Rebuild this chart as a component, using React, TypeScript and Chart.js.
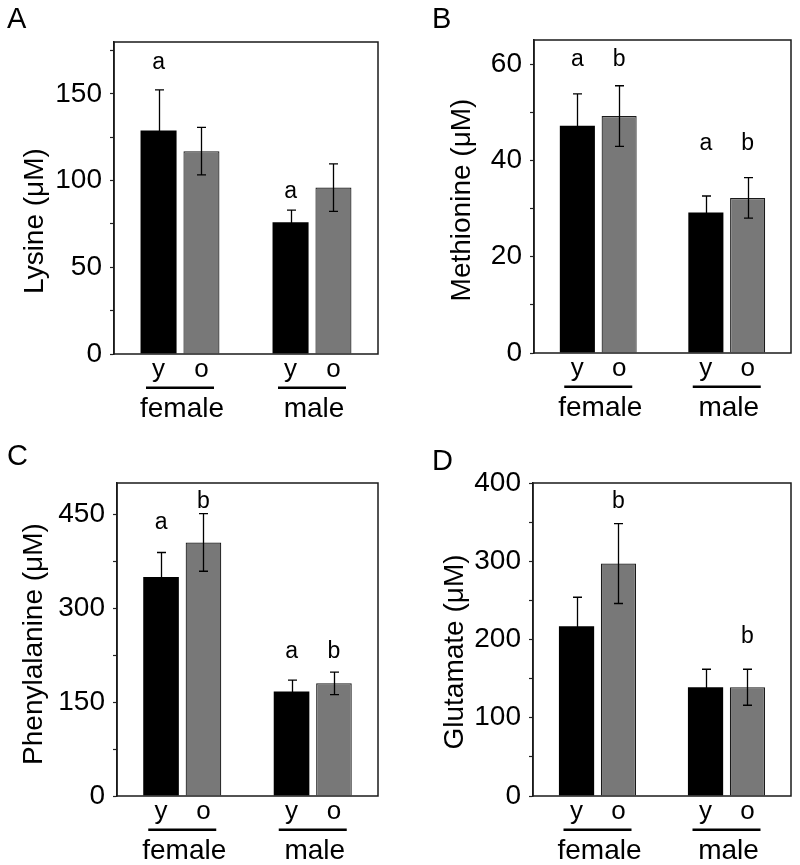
import React, { useEffect, useRef } from 'react';
import { Chart, registerables } from 'chart.js';
Chart.register(...registerables);

const FONT = '"Liberation Sans", Arial, Helvetica, sans-serif';

// categories
const groups = ['female', 'male'];
const ageLabels = ['y', 'o'];

// A: Lysine
const lysineYoung = [129, 76];
const lysineYoungErr = [23.4, 7];
const lysineOld = [117, 96];
const lysineOldErr = [13.7, 13.7];
const lysineYoungLetters = ['a', 'a'];
const lysineOldLetters = ['', ''];
const lysineYoungLetterAt = [164.5, 89.8];
const lysineOldLetterAt = [0, 0];
const lysineTicks = [0, 25, 50, 75, 100, 125, 150, 175];
const lysineTickLabels = ['0', '', '50', '', '100', '', '150', ''];

// B: Methionine
const methionineYoung = [47.2, 29.2];
const methionineYoungErr = [6.6, 3.4];
const methionineOld = [49.2, 32.2];
const methionineOldErr = [6.3, 4.2];
const methionineYoungLetters = ['a', 'a'];
const methionineOldLetters = ['b', 'b'];
const methionineYoungLetterAt = [59.6, 42.1];
const methionineOldLetterAt = [59.6, 42.1];
const methionineTicks = [0, 10, 20, 30, 40, 50, 60];
const methionineTickLabels = ['0', '', '20', '', '40', '', '60'];

// C: Phenylalanine
const phenylYoung = [350, 167];
const phenylYoungErr = [39, 18];
const phenylOld = [405, 180];
const phenylOldErr = [46, 18];
const phenylYoungLetters = ['a', 'a'];
const phenylOldLetters = ['b', 'b'];
const phenylYoungLetterAt = [426, 220];
const phenylOldLetterAt = [460, 220];
const phenylTicks = [0, 75, 150, 225, 300, 375, 450];
const phenylTickLabels = ['0', '', '150', '', '300', '', '450'];

// D: Glutamate
const glutamateYoung = [217, 139];
const glutamateYoungErr = [37, 23];
const glutamateOld = [297, 139];
const glutamateOldErr = [51, 23];
const glutamateYoungLetters = ['', ''];
const glutamateOldLetters = ['b', 'b'];
const glutamateYoungLetterAt = [0, 0];
const glutamateOldLetterAt = [368, 195];
const glutamateTicks = [0, 50, 100, 150, 200, 250, 300, 350, 400];
const glutamateTickLabels = ['0', '', '100', '', '200', '', '300', '', '400'];

const panels = [
  {
    key: 'A', left: 0, top: 0, width: 400, height: 430,
    pad: { top: 42, right: 22, bottom: 76 }, axisWidth: 114,
    max: 180, ticks: lysineTicks, tickLabels: lysineTickLabels,
    title: 'Lysine (μM)', titleX: 43, titleY: 221,
    letterX: 7, letterY: 28,
    young: lysineYoung, youngErr: lysineYoungErr, old: lysineOld, oldErr: lysineOldErr,
    youngLetters: lysineYoungLetters, oldLetters: lysineOldLetters,
    youngLetterAt: lysineYoungLetterAt, oldLetterAt: lysineOldLetterAt,
  },
  {
    key: 'B', left: 400, top: 0, width: 400, height: 430,
    pad: { top: 40, right: 9, bottom: 77 }, axisWidth: 134,
    max: 65, ticks: methionineTicks, tickLabels: methionineTickLabels,
    title: 'Methionine (μM)', titleX: 70, titleY: 200,
    letterX: 32, letterY: 28,
    young: methionineYoung, youngErr: methionineYoungErr, old: methionineOld, oldErr: methionineOldErr,
    youngLetters: methionineYoungLetters, oldLetters: methionineOldLetters,
    youngLetterAt: methionineYoungLetterAt, oldLetterAt: methionineOldLetterAt,
  },
  {
    key: 'C', left: 0, top: 430, width: 400, height: 435,
    pad: { top: 53, right: 22, bottom: 69 }, axisWidth: 117,
    max: 500, ticks: phenylTicks, tickLabels: phenylTickLabels,
    title: 'Phenylalanine (μM)', titleX: 42, titleY: 214,
    letterX: 7, letterY: 35,
    young: phenylYoung, youngErr: phenylYoungErr, old: phenylOld, oldErr: phenylOldErr,
    youngLetters: phenylYoungLetters, oldLetters: phenylOldLetters,
    youngLetterAt: phenylYoungLetterAt, oldLetterAt: phenylOldLetterAt,
  },
  {
    key: 'D', left: 400, top: 430, width: 400, height: 435,
    pad: { top: 53, right: 9, bottom: 69 }, axisWidth: 133,
    max: 400, ticks: glutamateTicks, tickLabels: glutamateTickLabels,
    title: 'Glutamate (μM)', titleX: 63, titleY: 222,
    letterX: 32, letterY: 40,
    young: glutamateYoung, youngErr: glutamateYoungErr, old: glutamateOld, oldErr: glutamateOldErr,
    youngLetters: glutamateYoungLetters, oldLetters: glutamateOldLetters,
    youngLetterAt: glutamateYoungLetterAt, oldLetterAt: glutamateOldLetterAt,
  },
];

function Panel({ cfg }: { cfg: any }) {
  const ref = useRef<HTMLCanvasElement | null>(null);
  useEffect(() => {
    if (!ref.current) return;
    const deco = {
      id: 'deco' + cfg.key,
      afterDatasetsDraw(chart: any) {
        const ctx = chart.ctx;
        const ys = chart.scales.y;
        const series = [
          { vals: cfg.young, errs: cfg.youngErr },
          { vals: cfg.old, errs: cfg.oldErr },
        ];
        ctx.save();
        ctx.strokeStyle = '#000';
        ctx.lineWidth = 1.3;
        series.forEach((s, di) => {
          const meta = chart.getDatasetMeta(di);
          meta.data.forEach((bar: any, i: number) => {
            const x = Math.round(bar.x) + 0.5;
            const yt = ys.getPixelForValue(s.vals[i] + s.errs[i]);
            const yb = ys.getPixelForValue(s.vals[i] - s.errs[i]);
            ctx.beginPath();
            ctx.moveTo(x, yt);
            ctx.lineTo(x, yb);
            ctx.moveTo(x - 4.5, yt);
            ctx.lineTo(x + 4.5, yt);
            ctx.moveTo(x - 4.5, yb);
            ctx.lineTo(x + 4.5, yb);
            ctx.stroke();
          });
        });
        ctx.restore();
      },
      afterDraw(chart: any) {
        const ctx = chart.ctx;
        const ys = chart.scales.y;
        const { left, right, top, bottom } = chart.chartArea;
        ctx.save();
        // box
        ctx.strokeStyle = '#1a1a1a';
        ctx.lineWidth = 1.5;
        ctx.strokeRect(left, top, right - left, bottom - top);
        ctx.fillStyle = '#000';
        // significance letters
        ctx.font = `23px ${FONT}`;
        ctx.textAlign = 'center';
        ctx.textBaseline = 'alphabetic';
        const letterSets = [
          { letters: cfg.youngLetters, at: cfg.youngLetterAt },
          { letters: cfg.oldLetters, at: cfg.oldLetterAt },
        ];
        letterSets.forEach((ls, di) => {
          const meta = chart.getDatasetMeta(di);
          meta.data.forEach((bar: any, i: number) => {
            if (ls.letters[i]) ctx.fillText(ls.letters[i], bar.x, ys.getPixelForValue(ls.at[i]));
          });
        });
        // age labels, underline, group labels
        const m0 = chart.getDatasetMeta(0);
        const m1 = chart.getDatasetMeta(1);
        groups.forEach((g: string, i: number) => {
          const xa = m0.data[i].x;
          const xb = m1.data[i].x;
          ctx.font = `26px ${FONT}`;
          ctx.fillText(ageLabels[0], xa, bottom + 22.5);
          ctx.fillText(ageLabels[1], xb, bottom + 22.5);
          const mid = (xa + xb) / 2;
          ctx.fillRect(mid - 34, bottom + 32.5, 68, 2.5);
          ctx.font = `28px ${FONT}`;
          ctx.fillText(g, mid + 2, bottom + 63);
        });
        // y title
        ctx.save();
        ctx.translate(cfg.titleX, cfg.titleY);
        ctx.rotate(-Math.PI / 2);
        ctx.font = `28px ${FONT}`;
        ctx.textAlign = 'center';
        ctx.fillText(cfg.title, 0, 0);
        ctx.restore();
        // panel letter
        ctx.font = `29px ${FONT}`;
        ctx.textAlign = 'left';
        ctx.fillText(cfg.key, cfg.letterX, cfg.letterY);
        ctx.restore();
      },
    };
    const chart = new Chart(ref.current, {
      type: 'bar',
      data: {
        labels: groups,
        datasets: [
          { data: cfg.young, backgroundColor: '#000000', borderWidth: 0 },
          { data: cfg.old, backgroundColor: '#787878', borderColor: '#1a1a1a', borderWidth: 1.2 },
        ],
      },
      options: {
        responsive: false,
        animation: false,
        devicePixelRatio: 1,
        layout: { padding: { top: cfg.pad.top, right: cfg.pad.right, bottom: cfg.pad.bottom, left: 0 } },
        datasets: { bar: { categoryPercentage: 0.65, barPercentage: 0.84 } },
        plugins: { legend: { display: false }, tooltip: { enabled: false } },
        scales: {
          x: { display: false },
          y: {
            min: 0,
            max: cfg.max,
            afterFit: (scale: any) => { scale.width = cfg.axisWidth; },
            afterBuildTicks: (scale: any) => {
              scale.ticks = cfg.ticks.map((v: number) => ({ value: v }));
            },
            ticks: {
              autoSkip: false,
              padding: 8,
              color: '#000',
              font: { family: FONT, size: 28 },
              callback: (v: any) => {
                const idx = cfg.ticks.indexOf(Number(v));
                return idx >= 0 ? cfg.tickLabels[idx] : '';
              },
            },
            grid: {
              drawOnChartArea: false,
              drawTicks: true,
              tickLength: 4,
              tickWidth: 1.2,
              tickColor: '#222',
            },
            border: { display: true, color: '#1a1a1a', width: 1.5 },
          },
        },
      },
      plugins: [deco],
    });
    return () => chart.destroy();
  }, [cfg]);
  return (
    <canvas
      ref={ref}
      width={cfg.width}
      height={cfg.height}
      style={{ position: 'absolute', left: cfg.left, top: cfg.top, width: cfg.width, height: cfg.height }}
    />
  );
}

export default function App() {
  return (
    <div style={{ position: 'absolute', left: 0, top: 0, width: 800, height: 865, background: '#fff' }}>
      {panels.map((p) => (
        <Panel key={p.key} cfg={p} />
      ))}
    </div>
  );
}
